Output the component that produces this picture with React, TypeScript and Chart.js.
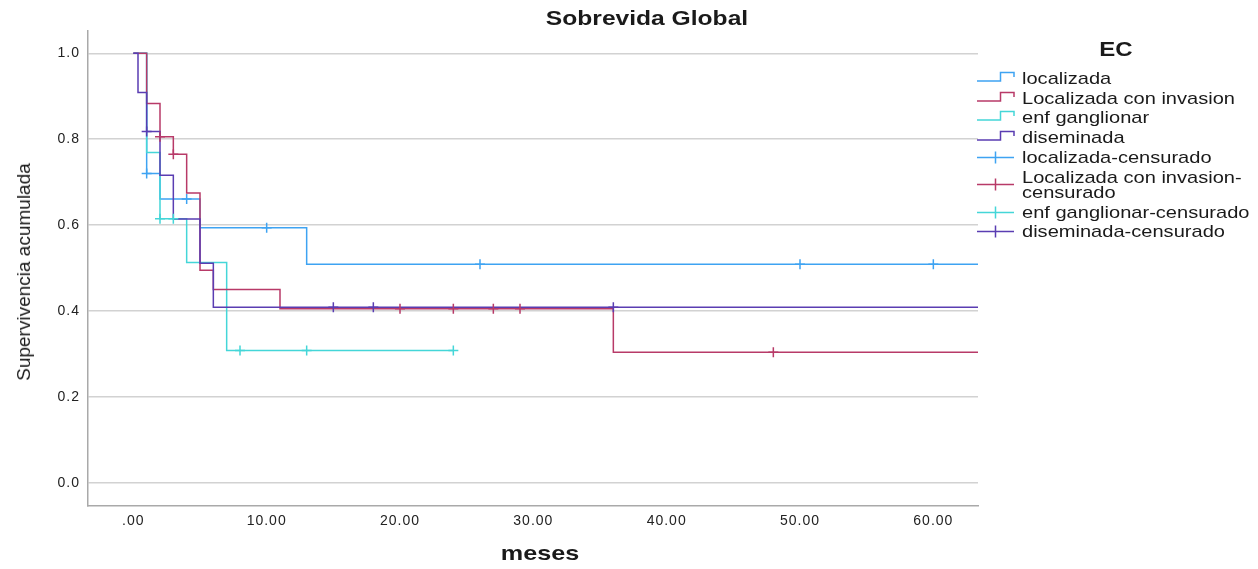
import React, { useEffect, useRef } from "react";
import { Chart, registerables } from "chart.js";

Chart.register(...registerables);

const FONT = "'Liberation Sans', Arial, Helvetica, sans-serif";

// Axis ticks
const xTickValues = [0, 10, 20, 30, 40, 50, 60];
const xTickLabels = [".00", "10.00", "20.00", "30.00", "40.00", "50.00", "60.00"];
const yTickValues = [0, 0.2, 0.4, 0.6, 0.8, 1.0];
const yTickLabels = ["0.0", "0.2", "0.4", "0.6", "0.8", "1.0"];

// Groups (EC)
const groups = ["localizada", "Localizada con invasion", "enf ganglionar", "diseminada"];
const censoredLabels = [
  "localizada-censurado",
  "Localizada con invasion-censurado",
  "enf ganglionar-censurado",
  "diseminada-censurado",
];
const colors = ["#3EA3F2", "#B83A68", "#44D6D8", "#5A3DB2"];

// Kaplan-Meier step curves (time in meses, cumulative survival)
const locTimes = [0, 1, 2, 5, 13, 64];
const locSurv = [1, 0.72, 0.661, 0.594, 0.509, 0.509];

const invTimes = [0, 1, 2, 3, 4, 5, 6, 11, 36, 64];
const invSurv = [1, 0.883, 0.806, 0.765, 0.675, 0.495, 0.45, 0.405, 0.304, 0.304];

const gangTimes = [0, 1, 2, 4, 7, 24];
const gangSurv = [1, 0.769, 0.615, 0.513, 0.308, 0.308];

const disTimes = [0, 0.35, 1, 2, 3, 5, 6, 64];
const disSurv = [1, 0.909, 0.818, 0.716, 0.614, 0.511, 0.409, 0.409];

// Censored observations
const locCensTimes = [1, 4, 10, 26, 50, 60];
const locCensSurv = [0.72, 0.661, 0.594, 0.509, 0.509, 0.509];

const invCensTimes = [2, 3, 20, 24, 27, 29, 48];
const invCensSurv = [0.806, 0.765, 0.405, 0.405, 0.405, 0.405, 0.304];

const gangCensTimes = [2, 3, 8, 13, 24];
const gangCensSurv = [0.615, 0.615, 0.308, 0.308, 0.308];

const disCensTimes = [1, 15, 18, 36];
const disCensSurv = [0.818, 0.409, 0.409, 0.409];

const curveTimes = [locTimes, invTimes, gangTimes, disTimes];
const curveSurv = [locSurv, invSurv, gangSurv, disSurv];
const censTimes = [locCensTimes, invCensTimes, gangCensTimes, disCensTimes];
const censSurv = [locCensSurv, invCensSurv, gangCensSurv, disCensSurv];
const lineOrder = [4, 2, 3, 1];

const toPoints = (xs: number[], ys: number[]) => xs.map((x, i) => ({ x, y: ys[i] }));

function StepIcon({ color }: { color: string }) {
  return (
    <svg width={40} height={15} style={{ display: "block", flex: "0 0 40px", overflow: "visible" }}>
      <path d="M0 10 H23.5 V1.5 H37 V6" fill="none" stroke={color} strokeWidth={1.5} />
    </svg>
  );
}

function CrossIcon({ color }: { color: string }) {
  return (
    <svg width={40} height={15} style={{ display: "block", flex: "0 0 40px", overflow: "visible" }}>
      <path d="M0 7.5 H37 M18.5 1.5 V13.5" fill="none" stroke={color} strokeWidth={1.5} />
    </svg>
  );
}

export default function App() {
  const ref = useRef<HTMLCanvasElement>(null);

  useEffect(() => {
    const canvas = ref.current;
    if (!canvas) return;

    const lineSets = groups.map((g, i) => ({
      label: g,
      data: toPoints(curveTimes[i], curveSurv[i]),
      borderColor: colors[i],
      backgroundColor: colors[i],
      borderWidth: 1.5,
      stepped: "before" as const,
      pointRadius: 0,
      pointHoverRadius: 0,
      fill: false,
      order: lineOrder[i],
    }));

    const censSets = censoredLabels.map((g, i) => ({
      label: g,
      data: toPoints(censTimes[i], censSurv[i]),
      borderColor: colors[i],
      backgroundColor: colors[i],
      showLine: false,
      pointStyle: "cross" as const,
      pointRadius: 5,
      pointHoverRadius: 5,
      pointBorderWidth: 1.5,
      order: 0,
    }));

    const spacing = {
      id: "tickSpacing",
      beforeDraw(c: any) {
        c.ctx.letterSpacing = "1px";
      },
      beforeDatasetsDraw(c: any) {
        c.ctx.letterSpacing = "0px";
      },
    };

    const chart = new Chart(canvas, {
      type: "line",
      data: { datasets: [...lineSets, ...censSets] as any },
      options: {
        animation: false,
        responsive: false,
        maintainAspectRatio: false,
        layout: { padding: { left: 0, top: 31, right: 280, bottom: 0 } },
        plugins: {
          legend: { display: false },
          title: { display: false },
          tooltip: { enabled: false },
        },
        events: [],
        scales: {
          x: {
            type: "linear",
            min: -3.4,
            max: 63.35,
            afterBuildTicks: (s: any) => {
              s.ticks = xTickValues.map((v) => ({ value: v }));
            },
            afterFit: (s: any) => {
              s.height = 63;
            },
            ticks: {
              autoSkip: false,
              maxRotation: 0,
              padding: 7,
              color: "#222",
              font: { family: FONT, size: 14 },
              callback: (_v: any, i: number) => xTickLabels[i],
            },
            grid: { display: false, drawTicks: false },
            border: { display: true, color: "#a9a9a9", width: 1.5 },
          },
          y: {
            type: "linear",
            min: -0.054,
            max: 1.052,
            afterBuildTicks: (s: any) => {
              s.ticks = yTickValues.map((v) => ({ value: v }));
            },
            afterFit: (s: any) => {
              s.width = 88;
            },
            ticks: {
              autoSkip: false,
              padding: 8,
              color: "#222",
              font: { family: FONT, size: 14 },
              callback: (_v: any, i: number) => yTickLabels[i],
            },
            grid: { display: true, drawTicks: false, color: "#d2d2d2", lineWidth: 1.5 },
            border: { display: true, color: "#a9a9a9", width: 1.5 },
          },
        },
      } as any,
      plugins: [spacing],
    });

    return () => chart.destroy();
  }, []);

  const legendItems = [
    ...groups.map((g, i) => ({ text: g, color: colors[i], kind: "step" })),
    ...censoredLabels.map((g, i) => ({ text: g, color: colors[i], kind: "cross" })),
  ];

  return (
    <div
      style={{
        position: "fixed",
        left: 0,
        top: 0,
        width: 1258,
        height: 569,
        background: "#fff",
        fontFamily: FONT,
        color: "#1a1a1a",
        overflow: "hidden",
      }}
    >
      <canvas
        ref={ref}
        width={1258}
        height={569}
        style={{ position: "absolute", left: 0, top: 0, width: 1258, height: 569 }}
      />
      <div
        style={{
          position: "absolute",
          left: 647,
          top: 17.5,
          transform: "translate(-50%, -50%) scaleX(1.23)",
          fontWeight: "bold",
          fontSize: 20,
          whiteSpace: "nowrap",
          lineHeight: "22px",
        }}
      >
        Sobrevida Global
      </div>
      <div
        style={{
          position: "absolute",
          left: 24,
          top: 272,
          transform: "translate(-50%, -50%) rotate(-90deg)",
          fontSize: 19,
          whiteSpace: "nowrap",
          lineHeight: "22px",
        }}
      >
        Supervivencia acumulada
      </div>
      <div
        style={{
          position: "absolute",
          left: 540,
          top: 553,
          transform: "translate(-50%, -50%) scaleX(1.2)",
          fontWeight: "bold",
          fontSize: 21,
          whiteSpace: "nowrap",
          lineHeight: "24px",
        }}
      >
        meses
      </div>
      <div
        style={{
          position: "absolute",
          left: 1115.5,
          top: 49,
          transform: "translate(-50%, -50%) scaleX(1.2)",
          fontWeight: "bold",
          fontSize: 20,
          whiteSpace: "nowrap",
          lineHeight: "22px",
        }}
      >
        EC
      </div>
      <div style={{ position: "absolute", left: 977, top: 68.4, display: "flex", flexDirection: "column" }}>
        {legendItems.map((it, i) => (
          <div
            key={i}
            style={{
              display: "flex",
              alignItems: "center",
              minHeight: 19.8,
              boxSizing: "border-box",
            }}
          >
            {it.kind === "step" ? <StepIcon color={it.color} /> : <CrossIcon color={it.color} />}
            <div
              style={{
                width: 200,
                marginLeft: 4.7,
                fontSize: 17,
                lineHeight: "15px",
                paddingTop: 2.4,
                paddingBottom: 2.4,
                transform: "scaleX(1.18)",
                transformOrigin: "left center",
              }}
            >
              {it.text}
            </div>
          </div>
        ))}
      </div>
    </div>
  );
}
